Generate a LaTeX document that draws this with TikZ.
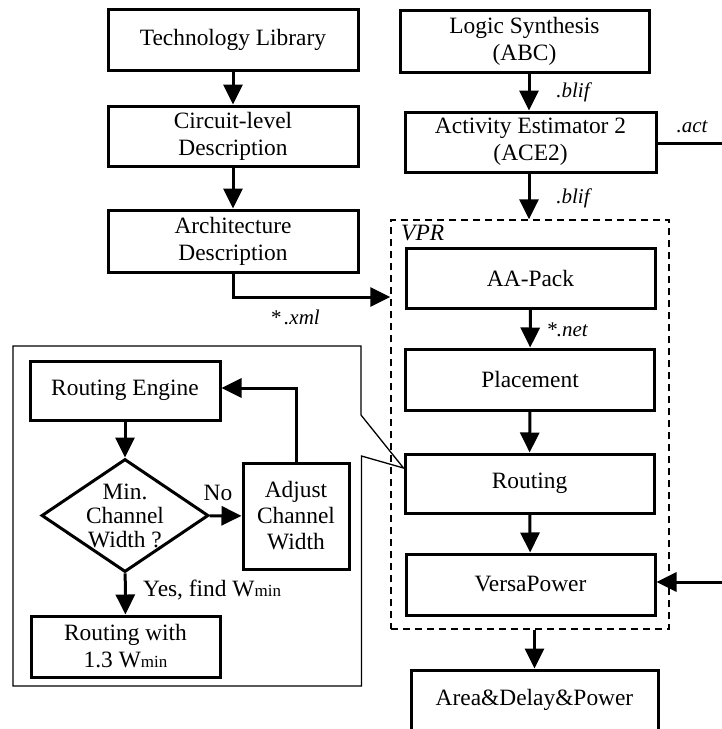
\documentclass[tikz,border=0pt]{standalone}
\usepackage{fontspec}
\setmainfont{Liberation Serif}
\usetikzlibrary{arrows.meta,shapes.geometric}
\tikzset{
  every node/.style={font=\fontsize{23.4}{27}\selectfont},
  box/.style={draw,line width=3pt,inner sep=0pt,align=center},
  flow/.style={line width=3pt,-{Triangle[length=20pt,width=19pt]}},
  lbl/.style={font=\fontsize{21}{24}\selectfont\itshape,inner sep=0pt},
  thin line/.style={line width=1.3pt},
  dashbox/.style={draw,dash pattern=on 7pt off 5pt,line width=1.5pt,inner sep=0pt}
}
\newcommand{\wmin}{W{\fontsize{17}{20}\selectfont min}}
\begin{document}
\begin{tikzpicture}[x=1pt,y=-1pt]
\clip (0,0) rectangle (722,729);
\fill[white] (0,0) rectangle (722,729);
% left column
\node[box,minimum width=250pt,minimum height=61pt] (tech) at (233,39.5) {Technology Library};
\node[box,minimum width=250pt,minimum height=60pt] (circ) at (233,136) {Circuit-level\\Description};
\node[box,minimum width=250pt,minimum height=62pt] (arch) at (233,241) {Architecture\\Description};
% right column
\node[box,minimum width=249pt,minimum height=62pt] (logic) at (524.5,41) {Logic Synthesis\\(ABC)};
\node[box,minimum width=251pt,minimum height=60pt] (ace) at (530.5,142) {Activity Estimator 2\\(ACE2)};
\node[dashbox,minimum width=278pt,minimum height=409pt] (vpr) at (530,424.5) {};
\node[font=\fontsize{23.4}{27}\selectfont\itshape,anchor=west,inner sep=0pt] (vprlbl) at (401,233) {VPR};
\node[box,minimum width=249pt,minimum height=60pt] (pack) at (530.5,278) {AA-Pack};
\node[box,minimum width=249pt,minimum height=61pt] (place) at (530,379.5) {Placement};
\node[box,minimum width=249pt,minimum height=59pt] (rout) at (529.5,483.5) {Routing};
\node[box,minimum width=249pt,minimum height=61pt] (versa) at (530.5,584.5) {VersaPower};
\node[box,minimum width=247pt,minimum height=80pt,text depth=0pt] (area) at (534.5,710) {};
\node (areatxt) at (534.5,700) {Area\&Delay\&Power};
% labels
\node[lbl] (blif1) at (573,92) {.blif};
\node[lbl] (blif2) at (573,198) {.blif};
\node[lbl] (act) at (692,127) {.act};
\node[lbl] (net) at (567,330) {*.net};
\node[lbl] (xml) at (295,317) {*\,.xml};
% arrows
\draw[flow] (tech) -- (circ);
\draw[flow] (circ) -- (arch);
\draw[flow] (logic.south -| ace.south) ++(-1.5,0) coordinate (ls) -- (ls |- ace.north);
\draw[flow] (ace.south) ++(-1.5,0) coordinate (as) -- (as |- vpr.north);
\draw[flow] (pack) -- (place);
\draw[flow] (place) -- (rout);
\draw[flow] (rout) -- (versa);
\draw[flow] (area.north |- vpr.south) -- (area.north);
\coordinate (xmlturn) at (arch.south |- 0,297);
\draw[flow] (arch.south) -- (xmlturn) -- (xmlturn -| vpr.west);
\coordinate (actend) at (730,143);
\draw[line width=3pt] (ace.east |- actend) -- (actend);
\coordinate (powin) at (730,582);
\draw[flow] (powin) -- (powin -| versa.east);
% routing detail
\coordinate (c1) at (13,346);
\coordinate (c2) at (361,346);
\coordinate (c3) at (361,415);
\coordinate (c4) at (rout.west |- 0,468);
\coordinate (c5) at (361.5,456);
\coordinate (c6) at (361.5,686);
\coordinate (c7) at (13,686);
\draw[thin line,line join=miter] (c1) -- (c2) -- (c3) -- (c4) -- (c5) -- (c6) -- (c7) -- cycle;
\node[box,minimum width=190pt,minimum height=59pt] (reng) at (125,390.5) {Routing Engine};
\node[draw,diamond,line width=3pt,minimum width=167pt,minimum height=113pt,inner sep=0pt] (dia) at (125,515.5) {};
\node[align=center,font=\fontsize{23.4}{24}\selectfont] (diatxt) at (125,516) {Min.\\Channel\\Width ?};
\node[box,minimum width=106pt,minimum height=106pt,font=\fontsize{23.4}{26}\selectfont] (adj) at (296,516) {Adjust\\Channel\\Width};
\node[box,minimum width=189pt,minimum height=61pt] (rwith) at (125.5,646.5) {Routing with\\1.3 \wmin};
\node[inner sep=0pt] (no) at (218,493) {No};
\node[inner sep=0pt,anchor=west] (yes) at (143,590) {Yes, find \wmin};
\draw[flow] (reng) -- (dia);
\draw[flow] (dia) -- (adj);
\draw[flow] (dia) -- (rwith);
\coordinate (fb) at (adj.north |- 0,388);
\draw[flow] (adj.north) -- (fb) -- (fb -| reng.east);
\end{tikzpicture}
\end{document}
